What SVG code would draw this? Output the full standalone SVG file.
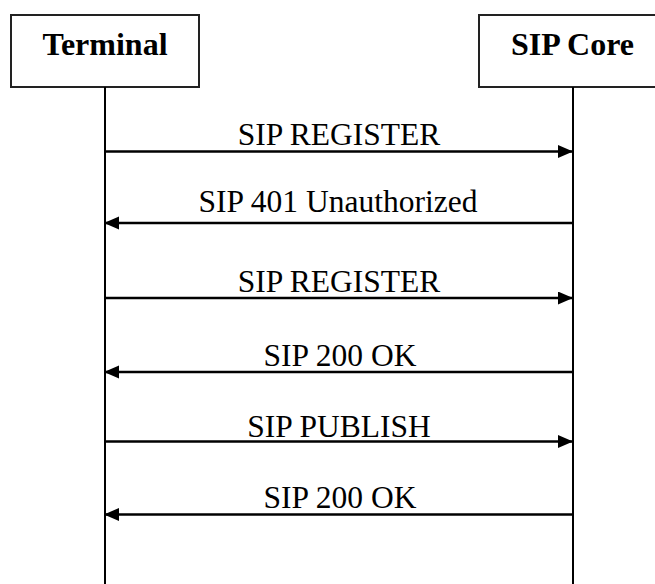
<svg xmlns="http://www.w3.org/2000/svg" width="655" height="584" viewBox="0 0 655 584">
<style>
.box{fill:#fff;stroke:#222;stroke-width:2}
.life{stroke:#000;stroke-width:2;fill:none}
.hdr{font-family:"Liberation Serif","Times New Roman",serif;font-weight:bold;font-size:32px;text-anchor:middle;fill:#000}
.msg{font-family:"Liberation Serif","Times New Roman",serif;font-size:31.5px;text-anchor:middle;fill:#000}
.arr{stroke:#000;stroke-width:2.5;fill:none;marker-end:url(#ah)}
</style>
<defs>
<marker id="ah" markerUnits="userSpaceOnUse" markerWidth="16" markerHeight="14" refX="15" refY="6.5" orient="auto">
<path d="M0,0 L15,6.5 L0,13 z" fill="#000"/>
</marker>
</defs>
<rect width="655" height="584" fill="#fff"/>
<g id="terminal">
<rect class="box" x="11" y="15" width="188" height="72"/>
<text class="hdr" x="105" y="55">Terminal</text>
<line class="life" x1="105" y1="87" x2="105" y2="584"/>
</g>
<g id="sipcore">
<rect class="box" x="479" y="15" width="188" height="72"/>
<text class="hdr" x="572.5" y="55">SIP Core</text>
<line class="life" x1="573" y1="87" x2="573" y2="584"/>
</g>
<g id="connectors">
<line class="arr" x1="105" y1="151.5" x2="573" y2="151.5"/>
<text class="msg" x="339" y="145">SIP REGISTER</text>
<line class="arr" x1="573" y1="223" x2="104" y2="223"/>
<text class="msg" x="338" y="212">SIP 401 Unauthorized</text>
<line class="arr" x1="105" y1="298" x2="573" y2="298"/>
<text class="msg" x="339" y="292">SIP REGISTER</text>
<line class="arr" x1="573" y1="372" x2="104" y2="372"/>
<text class="msg" x="340" y="366">SIP 200 OK</text>
<line class="arr" x1="105" y1="441.5" x2="573" y2="441.5"/>
<text class="msg" x="339" y="437">SIP PUBLISH</text>
<line class="arr" x1="573" y1="514.5" x2="104" y2="514.5"/>
<text class="msg" x="340" y="508">SIP 200 OK</text>
</g>
</svg>
